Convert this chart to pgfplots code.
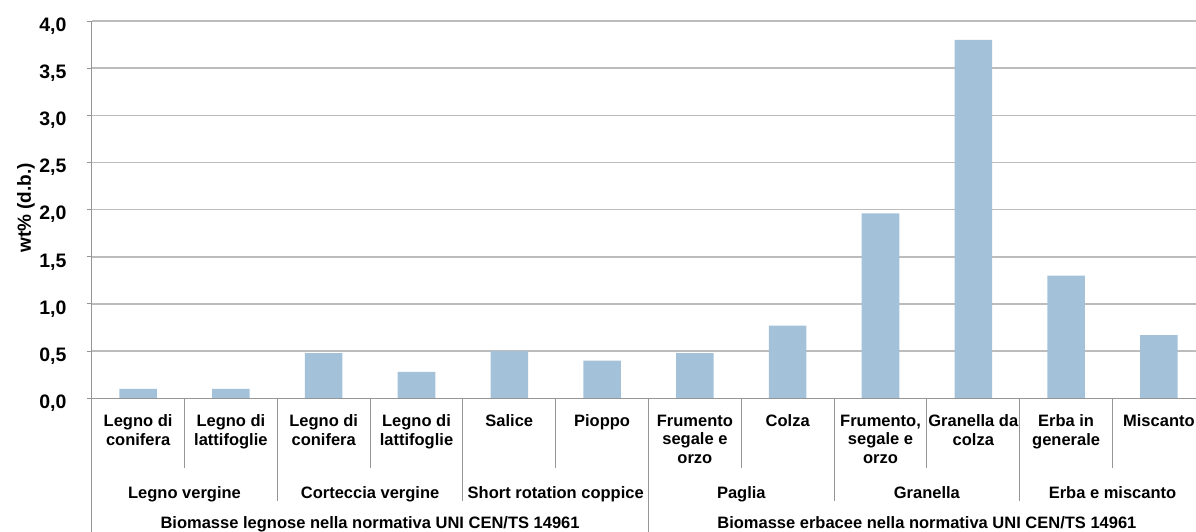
\documentclass[border=0pt]{standalone}
\usepackage{fontspec}
\setmainfont{Liberation Sans}
\usepackage{pgfplots}
\pgfplotsset{compat=1.18}

\definecolor{barblue}{RGB}{164,193,218}
\definecolor{gridgray}{RGB}{188,188,188}
\definecolor{axisgray}{RGB}{150,150,150}
\newcommand\catfont{\bfseries\fontsize{16.5}{18.5}\selectfont}

\begin{document}
\begin{tikzpicture}
\begin{axis}[
  scale only axis,
  width=1113.6pt, height=377.3pt,
  xmin=-0.5, xmax=11.5, ymin=0, ymax=4,
  clip=false,
  ybar, bar width=0.405,
  axis line style={draw=none},
  xtick=\empty,
  ytick={0,0.5,...,4},
  ymajorgrids,
  grid style={gridgray, line width=1.5pt},
  tick align=outside,
  major tick length=5pt,
  ytick style={axisgray, line width=1pt},
  /pgf/number format/assume math mode=true,
  /pgf/number format/use comma,
  /pgf/number format/fixed,
  /pgf/number format/fixed zerofill,
  /pgf/number format/precision=1,
  yticklabel style={font=\bfseries\fontsize{19.5}{22}\selectfont, anchor=base east, inner sep=0pt, xshift=-20pt, yshift=-10.2pt},
  ylabel={wt\% (d.b.)},
  ylabel style={font=\bfseries\fontsize{19}{22}\selectfont, at={(axis description cs:-0.059,0.505)}, anchor=center},
]
\addplot[fill=barblue, draw=none] coordinates {
  (0,0.10) (1,0.10) (2,0.48) (3,0.28) (4,0.50) (5,0.40)
  (6,0.48) (7,0.77) (8,1.96) (9,3.80) (10,1.30) (11,0.67)
};

% axis lines
\draw[axisgray, line width=1pt] (axis cs:-0.5,4) -- (axis cs:-0.5,0) -- ++(0pt,-140pt);
\draw[axisgray, line width=1pt] (axis cs:-0.5,0) -- (axis cs:11.5,0);
% category separators (three levels)
\draw[axisgray, line width=1pt]
  (axis cs:0.5,0) -- ++(0pt,-70pt)  (axis cs:2.5,0) -- ++(0pt,-70pt)
  (axis cs:4.5,0) -- ++(0pt,-70pt)  (axis cs:6.5,0) -- ++(0pt,-70pt)
  (axis cs:8.5,0) -- ++(0pt,-70pt)  (axis cs:10.5,0) -- ++(0pt,-70pt)
  (axis cs:1.5,0) -- ++(0pt,-103pt) (axis cs:3.5,0) -- ++(0pt,-103pt)
  (axis cs:7.5,0) -- ++(0pt,-103pt) (axis cs:9.5,0) -- ++(0pt,-103pt)
  (axis cs:5.5,0) -- ++(0pt,-140pt);

% level 1 labels
\begin{scope}[every node/.style={font=\catfont, align=center, anchor=north, inner sep=0pt, yshift=-16.3pt}]
\node at (axis cs:0,0) {Legno di\\conifera};
\node at (axis cs:1,0) {Legno di\\lattifoglie};
\node at (axis cs:2,0) {Legno di\\conifera};
\node at (axis cs:3,0) {Legno di\\lattifoglie};
\node at (axis cs:4,0) {Salice};
\node at (axis cs:5,0) {Pioppo};
\node at (axis cs:6,0) {Frumento\\segale e\\orzo};
\node at (axis cs:7,0) {Colza};
\node at (axis cs:8,0) {Frumento,\\segale e\\orzo};
\node at (axis cs:9,0) {Granella da\\colza};
\node at (axis cs:10,0) {Erba in\\generale};
\node at (axis cs:11,0) {Miscanto};
\end{scope}
% level 2 labels
\begin{scope}[every node/.style={font=\catfont, anchor=base, inner sep=0pt, yshift=-99.7pt}]
\node at (axis cs:0.5,0) {Legno vergine};
\node at (axis cs:2.5,0) {Corteccia vergine};
\node at (axis cs:4.5,0) {Short rotation coppice};
\node at (axis cs:6.5,0) {Paglia};
\node at (axis cs:8.5,0) {Granella};
\node at (axis cs:10.5,0) {Erba e miscanto};
\end{scope}
% level 3 labels
\begin{scope}[every node/.style={font=\catfont, anchor=base, inner sep=0pt, yshift=-129.7pt}]
\node at (axis cs:2.5,0) {Biomasse legnose nella normativa UNI CEN/TS 14961};
\node at (axis cs:8.5,0) {Biomasse erbacee nella normativa UNI CEN/TS 14961};
\end{scope}
\end{axis}
\pgfresetboundingbox
\useasboundingbox (-91.7pt,-133.7pt) rectangle (1104.3pt,398.3pt);
\end{tikzpicture}
\end{document}
